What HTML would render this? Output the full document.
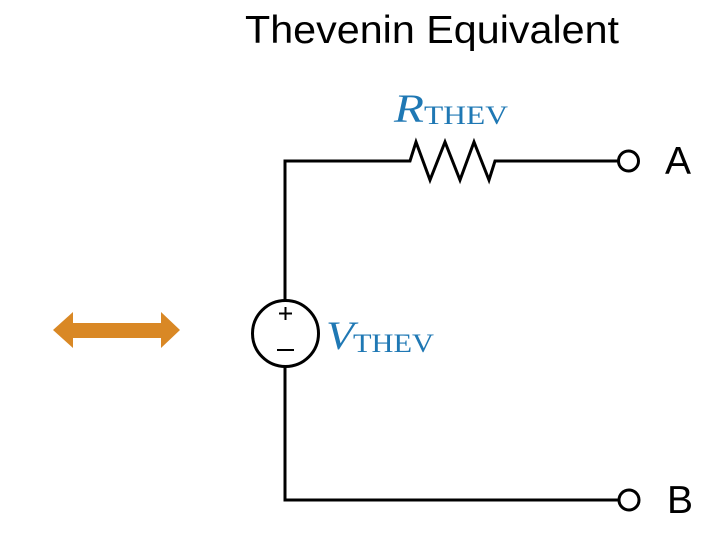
<!DOCTYPE html>
<html><head><meta charset="utf-8"><style>html,body{margin:0;padding:0;background:#fff;}svg{display:block}</style></head>
<body>
<svg width="719" height="540" viewBox="0 0 719 540" xmlns="http://www.w3.org/2000/svg">
<text x="245" y="43" font-family="Liberation Sans, sans-serif" font-size="39" textLength="374" lengthAdjust="spacingAndGlyphs" fill="#000">Thevenin Equivalent</text>
<g fill="none" stroke="#000" stroke-width="3" stroke-linejoin="miter">
<polyline points="285,300 285,161 410,161 416,142 430,180 445,142 460,180 474,142 489,180 495,161 618,161"/>
<polyline points="285,367 285,500 619,500"/>
<circle cx="285.5" cy="333.5" r="33"/>
<circle cx="628.5" cy="161" r="10"/>
<circle cx="629" cy="500" r="10"/>
</g>
<line x1="285.5" y1="307" x2="285.5" y2="320" stroke="#000" stroke-width="2"/>
<line x1="279" y1="313.5" x2="292" y2="313.5" stroke="#000" stroke-width="2"/>
<line x1="277" y1="350" x2="294" y2="350" stroke="#000" stroke-width="2"/>
<text x="665" y="174" font-family="Liberation Sans, sans-serif" font-size="39">A</text>
<text x="667" y="513" font-family="Liberation Sans, sans-serif" font-size="39">B</text>
<g fill="#1f78b4" font-family="Liberation Serif, serif">
<text x="394" y="122" font-size="40" font-style="italic" textLength="30" lengthAdjust="spacingAndGlyphs">R</text>
<text x="424" y="124" font-size="26" textLength="84" lengthAdjust="spacingAndGlyphs">THEV</text>
<text x="326" y="349" font-size="40" font-style="italic" textLength="28" lengthAdjust="spacingAndGlyphs">V</text>
<text x="353" y="352" font-size="26" textLength="81" lengthAdjust="spacingAndGlyphs">THEV</text>
</g>
<polygon fill="#d98825" points="53,330 73,312 73,323 161,323 161,312 180,330 161,348 161,338 73,338 73,348"/>
</svg>
</body></html>
